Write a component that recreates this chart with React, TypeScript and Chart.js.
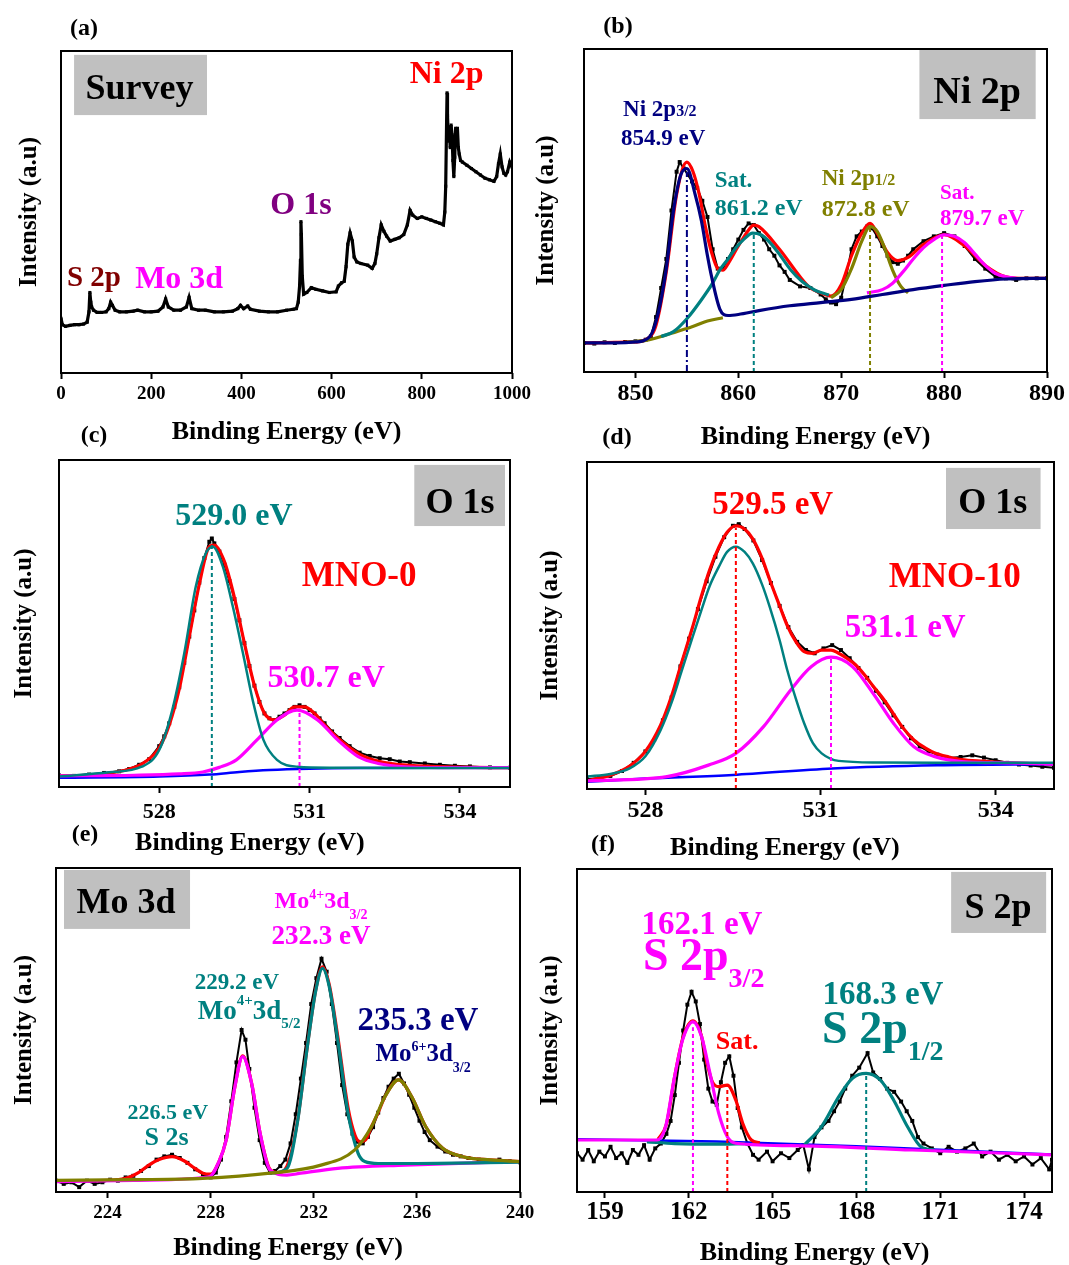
import React, { useEffect, useRef } from 'react';
import { Chart, registerables } from 'chart.js';

Chart.register(...registerables);

const FONT = "'Liberation Serif', 'Times New Roman', Times, serif";
const NAVY = '#000080';
const TEAL = '#008080';
const OLIVE = '#808000';
const MAGENTA = '#ff00ff';
const RED = '#ff0000';
const BLUE = '#0000ff';
const PURPLE = '#800080';
const MAROON = '#800000';
const GRAY = '#c0c0c0';

type Pt = [number, number | null];

// ---------- (a) Survey ----------
const surveyTicks = [0, 200, 400, 600, 800, 1000];
const surveyData: Pt[] = [
  [0, 17], [3, 15], [10, 14.5], [20, 14.8], [30, 15], [40, 15], [50, 15.2], [58, 15.8], [62, 19], [64, 25], [66, 22],
  [68, 20.5], [72, 19.5], [80, 18.8], [90, 18.8], [100, 19], [106, 20], [110, 22], [114, 21], [120, 19.5], [130, 19],
  [145, 19], [160, 19.2], [170, 19.5], [185, 19], [200, 19], [215, 19.2], [226, 20.5], [232, 23], [238, 20.5], [250, 19.5],
  [265, 19.5], [278, 20.5], [284, 23.5], [290, 20], [305, 19.5], [320, 19.5], [340, 19], [360, 19], [380, 19.2], [392, 20],
  [398, 21], [405, 20], [414, 20.8], [420, 19.8], [440, 19.2], [460, 19], [480, 19], [500, 19.5], [515, 19.8], [522, 20],
  [526, 22], [529, 27], [531, 35], [532, 47], [533, 43], [535, 30], [538, 24.5], [545, 25], [555, 26.5], [565, 26],
  [580, 25.5], [595, 25], [610, 25.2], [615, 27], [622, 28], [628, 28.5], [632, 33], [636, 40], [641, 43.5], [646, 41],
  [650, 36], [656, 34.5], [665, 34], [680, 33.5], [690, 32.5], [696, 34], [700, 37], [705, 42], [710, 46], [716, 44],
  [722, 42.5], [730, 41], [740, 41.5], [750, 42], [760, 43], [768, 46], [774, 50.5], [780, 49], [790, 48], [800, 48.5],
  [810, 48], [820, 47.5], [830, 47], [840, 46.5], [848, 46], [851, 50], [853, 58], [855, 78], [856, 87], [857, 80],
  [859, 72], [861, 76], [863, 70], [865, 77], [867, 74], [869, 66], [871, 61], [873, 67], [875, 76], [877, 73],
  [879, 76], [881, 70], [883, 68], [886, 66], [890, 65.5], [900, 64.5], [910, 63.5], [920, 62.5], [930, 61.5], [940, 60.5],
  [950, 60], [960, 59.5], [966, 61], [970, 65], [974, 68], [978, 64], [982, 62], [986, 61.5], [990, 62.5], [995, 65.5], [1000, 64],
];

// ---------- (b) Ni 2p ----------
const niTicks = [850, 860, 870, 880, 890];
const niData: Pt[] = [
  [845, 9], [846, 8.8], [847, 9.2], [848, 9], [849, 9.3], [850, 9.5], [851, 10], [851.5, 11], [852, 17], [852.5, 26],
  [853, 35], [853.5, 50], [854, 62], [854.3, 65], [854.7, 63], [855.1, 61], [855.5, 59], [856, 57], [856.5, 53], [857, 48],
  [857.5, 38], [858, 32], [858.5, 32], [859, 35], [859.5, 38], [860, 41], [860.5, 44], [861, 46], [861.5, 45.5], [862, 43],
  [862.5, 41], [863, 38], [863.5, 36], [864, 33], [864.5, 31], [865, 28.5], [866, 26.5], [867, 26], [868, 24], [868.5, 22.5],
  [869, 21.5], [869.5, 21], [870, 23], [870.5, 30], [871, 38], [871.5, 42], [872, 43.5], [872.5, 45], [873, 44.5], [873.5, 42],
  [874, 39], [874.5, 36], [875, 34], [875.5, 33.5], [876, 34.5], [876.5, 36], [877, 38], [878, 40.5], [879, 42], [880, 43],
  [881, 42], [882, 39], [883, 35], [884, 32], [885, 29.5], [886, 29], [887, 28.5], [888, 29], [889, 29], [890, 29],
];
const niEnvelope: Pt[] = [
  [845, 9], [850, 9.3], [851, 10], [852, 14.5], [853, 31], [854, 55], [855, 65], [855.6, 62], [856.2, 55], [856.8, 45],
  [857.4, 37], [858, 32], [858.5, 31.5], [859, 33.5], [860, 39], [861, 44], [861.5, 45.5], [862, 45], [864, 38], [866, 29.5],
  [867, 26], [868, 24.5], [869, 23.5], [870, 27], [871, 36], [872, 43], [872.8, 46], [873.5, 43], [874.5, 37], [875.5, 34.5],
  [876.5, 35.5], [878, 39.5], [880, 42.5], [882, 39], [884, 33], [886, 29.5], [888, 29], [890, 29],
];
const niP32: Pt[] = [
  [845, 9], [848, 9], [850, 9.3], [851.4, 11], [852.2, 18], [853, 32], [853.7, 50], [854.4, 61], [855, 63], [855.8, 55],
  [856.4, 47], [857, 36], [857.4, 29.5], [858.2, 19.5], [859, 17.5], [860, 17.8], [862, 19], [865, 20.5], [868, 21.5],
  [871, 22.5], [874, 24], [877, 25.5], [880, 26.8], [883, 28], [886, 28.8], [890, 29],
];
const niSat1: Pt[] = [
  [852.5, 11], [853.7, 12.5], [855, 16.5], [856.4, 22.3], [857.5, 27.5], [858.2, 31.6], [859, 35], [859.75, 38.4],
  [860.5, 41], [861.4, 43], [862.2, 42.5], [863.1, 40], [864.1, 36], [865.1, 31.6], [866.2, 28], [867.4, 25.4], [868.8, 23.8],
];
const niP12: Pt[] = [
  [849, 9.2], [851, 9.8], [852.5, 11], [854, 12.5], [855.5, 14], [857, 15.8], [858.5, 16.8], [860, null],
  [869, 23], [870, 25.5], [871, 32], [872, 40.5], [872.8, 45], [873.5, 43.5], [874.2, 38.5], [875, 31.5], [875.8, 26.5], [876.5, 24.5],
];
const niSat2: Pt[] = [
  [872.5, 24.5], [874, 25.5], [875, 27.5], [876, 31], [877, 35], [878, 38.5], [879, 41], [880, 42.5], [881, 42],
  [882, 40], [883, 36.5], [884, 33], [885, 30.5], [886, 29.5], [887, 29],
];
const niPeakE = [855.0, 861.5, 872.8, 879.8];
const niPeakTop = [62, 43, 44.5, 42];

// ---------- (c) O 1s, MNO-0 ----------
const o0Ticks = [528, 531, 534];
const o0Data: Pt[] = [
  [526, 3.5], [526.3, 3.4], [526.6, 3.8], [526.9, 4.3], [527.2, 4.8], [527.4, 5.5], [527.6, 6.8], [527.8, 8.5], [528.0, 12.5],
  [528.1, 15.5], [528.2, 19.5], [528.3, 24.5], [528.4, 30.5], [528.5, 38], [528.6, 46], [528.7, 54], [528.8, 62.5], [528.9, 70],
  [529.0, 75], [529.05, 76], [529.1, 74.5], [529.2, 72], [529.3, 68], [529.4, 63], [529.5, 57.5], [529.6, 51], [529.7, 44],
  [529.8, 37], [529.9, 31], [530.0, 26], [530.1, 22.5], [530.2, 21], [530.3, 20.5], [530.4, 21.5], [530.5, 22.5], [530.6, 23.5],
  [530.7, 24.5], [530.8, 25], [530.9, 24.5], [531.0, 23.5], [531.1, 22.5], [531.2, 21], [531.3, 19.5], [531.45, 17], [531.6, 15],
  [531.8, 12.5], [532.0, 10.5], [532.2, 9.5], [532.4, 8.8], [532.6, 8.5], [532.8, 7.8], [533.0, 7.6], [533.3, 7.2], [533.6, 6.8],
  [533.9, 6.5], [534.2, 6.3], [534.6, 6], [535, 5.9],
];
const o0Envelope: Pt[] = [
  [526, 3.4], [526.5, 3.6], [527, 4.2], [527.4, 5.5], [527.7, 7.5], [528, 12], [528.2, 19], [528.4, 30], [528.6, 46], [528.8, 62],
  [529, 73.5], [529.1, 74], [529.3, 69], [529.5, 58], [529.7, 44], [529.9, 31], [530.1, 22.5], [530.3, 20.5], [530.5, 22],
  [530.7, 24.5], [530.9, 24.5], [531.1, 22.5], [531.3, 19], [531.6, 14.5], [532, 10], [532.4, 7.8], [533, 6.6], [534, 6.1], [535, 5.9],
];
const o0Lattice: Pt[] = [
  [526, 3.2], [527, 4.5], [527.65, 6.2], [528, 11.3], [528.26, 23.5], [528.5, 40.9], [528.73, 61.3], [528.93, 71.5], [529.07, 73.5],
  [529.27, 67.4], [529.47, 55.1], [529.67, 41], [529.88, 25.6], [530.08, 14.4], [530.35, 8.3], [530.76, 6.2], [531.5, 5.9], [533, 5.8], [535, 5.8],
];
const o0Vacancy: Pt[] = [
  [526, 3.4], [527.5, 3.6], [528.4, 4], [528.87, 4.6], [529.2, 6], [529.54, 8.3], [529.95, 14.4], [530.35, 20.5], [530.75, 23.5],
  [531.16, 20.5], [531.56, 14.4], [531.97, 9.3], [532.37, 7.2], [532.91, 6.2], [534, 5.9], [535, 5.9],
];
const o0Background: Pt[] = [
  [526, 2.8], [528, 3.2], [529, 3.8], [529.6, 4.6], [530.2, 5.2], [531, 5.6], [532, 5.8], [535, 5.9],
];
const o0PeakE = [529.05, 530.8];
const o0PeakTop = [74, 24];

// ---------- (d) O 1s, MNO-10 ----------
const o10Ticks = [528, 531, 534];
const o10Data: Pt[] = [
  [527.0, 3], [527.2, 3.4], [527.4, 4], [527.6, 5.5], [527.8, 8], [528.0, 11.5], [528.15, 15], [528.3, 21], [528.45, 28],
  [528.6, 37.5], [528.75, 46], [528.9, 55], [529.05, 63.5], [529.2, 71], [529.35, 77], [529.5, 80.5], [529.6, 81], [529.7, 79.5],
  [529.85, 76], [530.0, 70], [530.15, 63], [530.3, 56], [530.45, 49.5], [530.6, 45], [530.75, 42.5], [530.9, 41.5], [531.05, 43],
  [531.2, 44], [531.35, 42.5], [531.5, 40], [531.65, 37], [531.8, 34], [531.95, 30], [532.1, 26.5], [532.25, 22.5], [532.4, 19],
  [532.55, 15.5], [532.7, 13], [532.85, 11.5], [533.0, 10.5], [533.2, 9.5], [533.4, 9.8], [533.6, 10.3], [533.8, 9.6], [534.0, 8.8],
  [534.2, 8], [534.4, 7.5], [534.6, 7.2], [534.8, 6.8], [535.0, 6.5],
];
const o10Envelope: Pt[] = [
  [527, 2.5], [527.4, 4.2], [527.73, 7], [528.0, 11.5], [528.26, 19.5], [528.45, 28.5], [528.61, 38], [528.8, 49], [528.96, 59],
  [529.1, 67], [529.26, 74], [529.4, 78.5], [529.55, 80.5], [529.7, 79.5], [529.84, 76.5], [530.0, 70.5], [530.13, 64], [530.3, 56],
  [530.43, 50], [530.58, 45], [530.72, 42], [530.87, 41.5], [531.02, 42.5], [531.18, 42.5], [531.31, 41.5], [531.45, 40], [531.6, 38],
  [531.75, 35], [531.9, 31.5], [532.1, 27], [532.25, 23], [532.4, 19], [532.6, 15], [532.8, 12.5], [532.96, 11], [533.2, 9.8],
  [533.42, 9], [533.8, 8.5], [534.24, 8], [535, 7.6],
];
const o10Lattice: Pt[] = [
  [527.0, 3.8], [527.4, 4.6], [527.73, 6.3], [528.0, 10], [528.26, 18], [528.45, 26.5], [528.61, 35.4], [528.8, 46], [528.96, 54.7],
  [529.1, 62], [529.26, 68], [529.4, 72.5], [529.55, 74.1], [529.7, 72.5], [529.84, 69], [530.0, 62.5], [530.13, 55.7], [530.3, 45.5],
  [530.43, 36.4], [530.58, 27.5], [530.72, 20.1], [530.87, 14], [531.02, 10.9], [531.31, 8.6], [532, 8.1], [533, 8], [535, 8],
];
const o10Vacancy: Pt[] = [
  [527, 2.5], [528.37, 3.8], [529.08, 7.3], [529.55, 10.9], [530.02, 19], [530.49, 30.3], [530.84, 37.4], [531.18, 40.3], [531.55, 37.4],
  [531.9, 29.3], [532.25, 20.1], [532.6, 12.9], [532.96, 9.9], [533.42, 8.4], [534.24, 8], [535, 7.6],
];
const o10Background: Pt[] = [
  [527, 2.2], [528, 3.2], [529.5, 4.3], [531.2, 6.3], [533, 7.3], [535, 7.6],
];
const o10PeakE = [529.55, 531.18];
const o10PeakTop = [80, 40];

// ---------- (e) Mo 3d ----------
const moTicks = [224, 228, 232, 236, 240];
const moData: Pt[] = [
  [222, 3.5], [222.3, 2.5], [222.6, 3], [222.9, 1.5], [223.2, 3.5], [223.5, 2.5], [223.8, 3], [224.1, 3.8], [224.4, 3.5], [224.7, 4.5],
  [225.0, 5], [225.3, 6.5], [225.6, 8], [225.9, 10], [226.2, 11], [226.5, 11.5], [226.8, 10.5], [227.1, 9], [227.4, 7], [227.7, 5.5],
  [228.0, 4.5], [228.2, 6], [228.4, 10], [228.6, 17], [228.8, 28], [229.0, 40], [229.2, 50], [229.35, 47], [229.5, 38], [229.7, 26],
  [229.9, 16], [230.1, 9], [230.3, 6], [230.5, 6.5], [230.7, 8], [230.9, 10], [231.1, 15], [231.3, 24], [231.5, 35], [231.7, 46],
  [231.9, 58], [232.1, 66], [232.3, 72], [232.5, 68], [232.7, 58], [232.9, 46], [233.1, 33], [233.3, 24], [233.5, 18], [233.7, 15.5],
  [233.9, 15], [234.1, 17], [234.3, 20], [234.5, 24.5], [234.7, 29], [234.9, 32.5], [235.1, 35], [235.3, 36.5], [235.5, 33.5],
  [235.7, 30], [235.9, 26], [236.1, 22], [236.3, 18.5], [236.5, 16], [236.8, 14], [237.1, 12.5], [237.4, 11.5], [237.7, 11],
  [238.0, 10.5], [238.4, 10], [238.8, 9.5], [239.2, 10], [239.6, 9.5], [240, 9.2],
];
const moEnvelope: Pt[] = [
  [222, 3.5], [224, 3.6], [224.8, 4.5], [225.2, 6], [225.6, 8.3], [226, 10], [226.5, 10.9], [227, 9.5], [227.3, 7.8], [227.7, 5.8],
  [228, 5.5], [228.3, 9], [228.6, 16], [228.94, 32.5], [229.24, 42], [229.59, 33.5], [229.92, 18], [230.3, 7], [230.6, 6], [230.96, 8],
  [231.36, 21.5], [231.75, 45], [232.08, 62.5], [232.34, 69.5], [232.6, 64], [232.93, 48], [233.33, 26], [233.6, 17.5], [233.79, 15.5],
  [234, 16], [234.24, 20.2], [234.5, 24.5], [234.76, 29.4], [235.29, 34.6], [235.8, 29.4], [236.34, 20.2], [237, 13.5], [237.78, 10.9],
  [238.83, 9.9], [240, 9.4],
];
const moP52: Pt[] = [
  [222, 3.2], [225, 3.6], [227.95, 4.7], [228.3, 9], [228.6, 16], [228.94, 32.5], [229.24, 41.8], [229.59, 33.5], [229.92, 18.1],
  [230.3, 6.8], [230.96, 5.2], [231.5, 5.8], [232.93, 7.3], [235.55, 8.3], [240, 9.4],
];
const moP32: Pt[] = [
  [230.3, 5.8], [230.96, 7.3], [231.36, 21.2], [231.75, 44.8], [232.08, 62.3], [232.34, 69], [232.6, 63.4], [232.93, 46.9],
  [233.33, 24.3], [233.72, 11.9], [233.98, 9.4], [234.5, 8.8], [236, 8.8], [240, 9.2],
];
const moP6: Pt[] = [
  [222, 3.6], [225, 3.8], [227.69, 4.2], [230.3, 5.8], [232.28, 8.3], [233.59, 13], [234.24, 20.2], [234.76, 29.4], [235.29, 34.6],
  [235.8, 29.4], [236.34, 20.2], [237, 13.5], [237.78, 10.9], [238.83, 9.9], [240, 9.4],
];

// ---------- (f) S 2p ----------
const sTicks = [159, 162, 165, 168, 171, 174];
const sData: Pt[] = [
  [158.0, 12], [158.2, 10], [158.4, 13], [158.6, 9.5], [158.8, 12.5], [159.0, 11], [159.2, 14], [159.4, 10.5], [159.6, 12], [159.8, 9],
  [160.0, 13], [160.2, 11.5], [160.4, 14.5], [160.6, 10], [160.8, 13.5], [161.0, 15], [161.2, 18], [161.35, 22], [161.5, 30],
  [161.65, 40], [161.8, 50], [161.95, 58], [162.1, 62], [162.25, 59], [162.4, 52], [162.55, 41], [162.7, 32], [162.85, 28], [163.0, 27],
  [163.15, 34], [163.3, 40], [163.45, 42], [163.6, 36], [163.75, 26], [163.9, 20], [164.1, 15], [164.3, 11.5], [164.5, 10], [164.8, 12.5],
  [165.0, 9.5], [165.3, 12], [165.6, 10.5], [165.9, 13], [166.1, 14.5], [166.3, 7], [166.5, 17], [166.75, 20], [167.0, 22], [167.2, 25],
  [167.4, 28], [167.6, 32], [167.85, 36], [168.1, 38.5], [168.4, 43], [168.6, 37], [168.85, 35], [169.1, 32], [169.35, 31], [169.6, 28],
  [169.8, 25], [170.0, 22], [170.2, 17], [170.4, 15], [170.7, 13.5], [171.0, 12], [171.3, 14], [171.6, 12.5], [171.9, 13.5], [172.2, 15],
  [172.5, 11], [172.8, 12.5], [173.1, 10], [173.4, 11.5], [173.7, 9.5], [174.0, 11], [174.3, 8.5], [174.6, 10.5], [174.9, 7], [175, 10],
];
const sP32: Pt[] = [
  [158, 16.1], [160.86, 16.1], [161.17, 20.2], [161.47, 34.7], [161.78, 47.1], [162.15, 52.7], [162.46, 48.1], [162.76, 36.7],
  [163.07, 24.4], [163.38, 17.1], [163.68, 15.1], [166, 14.3], [170, 13], [175, 11.5],
];
const sEnvelope: Pt[] = [
  [160.9, 16.3], [161.2, 21], [161.5, 36], [161.8, 48], [162.15, 53], [162.45, 48.5], [162.65, 40], [162.85, 34], [163.07, 32.6],
  [163.38, 33.1], [163.68, 28.5], [163.93, 21.3], [164.24, 16.1], [164.54, 15.2],
];
const sP12: Pt[] = [
  [160.5, 15.5], [161.5, 15], [163, 14.8], [164, 15], [165, null], [166.14, 14.6], [166.75, 20.2], [167.37, 29.5], [167.86, 35.2],
  [168.35, 36.7], [168.85, 34.7], [169.33, 28.5], [169.83, 20.2], [170.31, 14], [170.8, 13],
];
const sBackground: Pt[] = [[158, 16.3], [163, 15.6], [168, 14.2], [175, 11.6]];
const sPeakE = [162.15, 163.38, 168.35];
const sPeakTop = [51, 33, 36.5];

// ---------- helpers ----------
type Seg = { t: string; s: number; dy?: number };
type Lbl = { x: number; y: number; c: string; segs: Seg[]; left?: boolean };
type GBox = { x0: number; x1: number; y0: number; y1: number };

const toXY = (pairs: Pt[]) => pairs.map(([x, y]) => ({ x, y }));

const dataDs = (pairs: Pt[], lw = 2, r = 2.8) => ({
  data: toXY(pairs), borderColor: '#000', borderWidth: lw, pointStyle: 'rect', pointRadius: r,
  pointBackgroundColor: '#000', pointBorderColor: '#000', pointBorderWidth: 0, tension: 0,
});
const fitDs = (pairs: Pt[], color: string, w = 3.2) => ({
  data: toXY(pairs), borderColor: color, borderWidth: w, pointRadius: 0,
  cubicInterpolationMode: 'monotone', spanGaps: false,
});
const vline = (x: number, top: number, color: string, dash: number[] = [4, 3]) => ({
  data: [{ x, y: 0 }, { x, y: top }], borderColor: color, borderWidth: 2, borderDash: dash, pointRadius: 0,
});

function decor(boxes: GBox[], labels: Lbl[]) {
  return {
    id: 'decor',
    afterDatasetsDraw(chart: any) {
      const { ctx, chartArea: a, scales } = chart;
      const xs = scales.x;
      const ys = scales.y;
      ctx.save();
      ctx.fillStyle = GRAY;
      for (const b of boxes) {
        const l = xs.getPixelForValue(b.x0);
        const r = xs.getPixelForValue(b.x1);
        const t = ys.getPixelForValue(b.y1);
        const bt = ys.getPixelForValue(b.y0);
        ctx.fillRect(l, t, r - l, bt - t);
      }
      ctx.strokeStyle = '#000';
      ctx.lineWidth = 2;
      ctx.strokeRect(a.left, a.top, a.right - a.left, a.bottom - a.top);
      ctx.textAlign = 'left';
      ctx.textBaseline = 'alphabetic';
      for (const lb of labels) {
        const px = xs.getPixelForValue(lb.x);
        const py = ys.getPixelForValue(lb.y);
        const widths = lb.segs.map((sg) => {
          ctx.font = `bold ${sg.s}px ${FONT}`;
          return ctx.measureText(sg.t).width;
        });
        const total = widths.reduce((p, w) => p + w, 0);
        let cx = lb.left ? px : px - total / 2;
        const base = py + lb.segs[0].s * 0.33;
        ctx.fillStyle = lb.c;
        lb.segs.forEach((sg, i) => {
          ctx.font = `bold ${sg.s}px ${FONT}`;
          ctx.fillText(sg.t, cx, base + (sg.dy || 0));
          cx += widths[i];
        });
      }
      ctx.restore();
    },
  };
}

type PanelCfg = {
  box: { l: number; t: number; r: number; b: number };
  yTitleX: number;
  xAxisH: number;
  xMin: number;
  xMax: number;
  ticks: number[];
  tickSize: number;
  tickPad: number;
  xTitle: boolean;
  datasets: any[];
  boxes: GBox[];
  labels: Lbl[];
};

function Panel({ cfg }: { cfg: PanelCfg }) {
  const ref = useRef<HTMLCanvasElement>(null);
  const { box } = cfg;
  const CL = cfg.yTitleX - 15;
  const CT = box.t - 20;
  const CR = Math.min(box.r + 28, 1069);
  const CB = box.b + cfg.xAxisH;
  const W = CR - CL;
  const H = CB - CT;
  useEffect(() => {
    const n = cfg.datasets.length;
    const datasets = cfg.datasets.map((d, i) => ({ ...d, order: n - i }));
    const chart = new Chart(ref.current as HTMLCanvasElement, {
      type: 'line',
      data: { datasets },
      options: {
        responsive: false,
        animation: false,
        devicePixelRatio: 1,
        events: [],
        layout: { padding: { left: 0, top: 20, right: CR - box.r, bottom: 0 }, autoPadding: false },
        plugins: { legend: { display: false }, tooltip: { enabled: false } },
        scales: {
          x: {
            type: 'linear',
            min: cfg.xMin,
            max: cfg.xMax,
            afterBuildTicks: (s: any) => { s.ticks = cfg.ticks.map((v) => ({ value: v })); },
            afterFit: (s: any) => { s.height = cfg.xAxisH; },
            grid: { display: true, drawOnChartArea: false, drawTicks: true, tickLength: 6, tickWidth: 2, tickColor: '#000', color: '#000' },
            border: { display: false },
            ticks: {
              color: '#000', font: { family: FONT, size: cfg.tickSize, weight: 'bold' }, padding: cfg.tickPad,
              maxRotation: 0, autoSkip: false, callback: (v: any) => String(v),
            },
            title: {
              display: cfg.xTitle, text: 'Binding Energy (eV)', color: '#000',
              font: { family: FONT, size: 26, weight: 'bold' }, padding: 0,
            },
          },
          y: {
            type: 'linear',
            min: 0,
            max: 100,
            afterFit: (s: any) => { s.width = box.l - CL; },
            grid: { display: false },
            border: { display: false },
            ticks: { display: false },
            title: {
              display: true, text: 'Intensity (a.u)', color: '#000',
              font: { family: FONT, size: 25, weight: 'bold' }, padding: 0,
            },
          },
        },
      } as any,
      plugins: [decor(cfg.boxes, cfg.labels)],
    } as any);
    return () => chart.destroy();
  }, []);
  return (
    <canvas ref={ref} width={W} height={H}
      style={{ position: 'absolute', left: CL, top: CT, width: W, height: H }} />
  );
}

const panels: PanelCfg[] = [
  {
    box: { l: 61, t: 51, r: 512, b: 373 }, yTitleX: 30, xAxisH: 75, xMin: 0, xMax: 1000, ticks: surveyTicks,
    tickSize: 19, tickPad: 4, xTitle: true,
    datasets: [dataDs(surveyData, 3.2, 2.2)],
    boxes: [{ x0: 29, x1: 323.7, y0: 80.1, y1: 98.8 }],
    labels: [
      { x: 174, y: 88.7, c: '#000', segs: [{ t: 'Survey', s: 36 }] },
      { x: 855, y: 93.3, c: RED, segs: [{ t: 'Ni 2p', s: 32 }] },
      { x: 532, y: 52.8, c: PURPLE, segs: [{ t: 'O 1s', s: 32 }] },
      { x: 73, y: 30.1, c: MAROON, segs: [{ t: 'S 2p', s: 29 }] },
      { x: 262, y: 29.8, c: MAGENTA, segs: [{ t: 'Mo 3d', s: 32 }] },
    ],
  },
  {
    box: { l: 584, t: 49, r: 1047, b: 372 }, yTitleX: 547, xAxisH: 81, xMin: 845, xMax: 890, ticks: niTicks,
    tickSize: 24, tickPad: 1, xTitle: true,
    datasets: [
      dataDs(niData), fitDs(niEnvelope, RED), fitDs(niP12, OLIVE), fitDs(niSat2, MAGENTA), fitDs(niSat1, TEAL),
      fitDs(niP32, NAVY),
      vline(niPeakE[0], niPeakTop[0], NAVY, [7, 3, 2, 3]), vline(niPeakE[1], niPeakTop[1], TEAL),
      vline(niPeakE[2], niPeakTop[2], OLIVE), vline(niPeakE[3], niPeakTop[3], MAGENTA),
    ],
    boxes: [{ x0: 877.6, x1: 888.9, y0: 78.3, y1: 99.7 }],
    labels: [
      { x: 883.2, y: 87.3, c: '#000', segs: [{ t: 'Ni 2p', s: 38 }] },
      { x: 848.8, y: 81.6, c: NAVY, left: true, segs: [{ t: 'Ni 2p', s: 23 }, { t: '3/2', s: 16 }] },
      { x: 848.6, y: 72.6, c: NAVY, left: true, segs: [{ t: '854.9 eV', s: 23 }] },
      { x: 857.7, y: 59.6, c: TEAL, left: true, segs: [{ t: 'Sat.', s: 23 }] },
      { x: 857.7, y: 51.2, c: TEAL, left: true, segs: [{ t: '861.2 eV', s: 24 }] },
      { x: 868.1, y: 60.2, c: OLIVE, left: true, segs: [{ t: 'Ni 2p', s: 23 }, { t: '1/2', s: 16 }] },
      { x: 868.1, y: 50.6, c: OLIVE, left: true, segs: [{ t: '872.8 eV', s: 24 }] },
      { x: 879.6, y: 55.6, c: MAGENTA, left: true, segs: [{ t: 'Sat.', s: 21 }] },
      { x: 879.6, y: 47.8, c: MAGENTA, left: true, segs: [{ t: '879.7 eV', s: 23 }] },
    ],
  },
  {
    box: { l: 59, t: 460, r: 510, b: 787 }, yTitleX: 25, xAxisH: 80, xMin: 526, xMax: 535, ticks: o0Ticks,
    tickSize: 22, tickPad: 6, xTitle: false,
    datasets: [
      dataDs(o0Data), fitDs(o0Envelope, RED), fitDs(o0Background, BLUE, 2.5), fitDs(o0Vacancy, MAGENTA),
      fitDs(o0Lattice, TEAL, 2.5),
      vline(o0PeakE[0], o0PeakTop[0], TEAL), vline(o0PeakE[1], o0PeakTop[1], MAGENTA),
    ],
    boxes: [{ x0: 533.09, x1: 534.9, y0: 79.8, y1: 98.5 }],
    labels: [
      { x: 534.0, y: 87.5, c: '#000', segs: [{ t: 'O 1s', s: 36 }] },
      { x: 529.49, y: 83.5, c: TEAL, segs: [{ t: '529.0 eV', s: 32 }] },
      { x: 531.99, y: 65.1, c: RED, segs: [{ t: 'MNO-0', s: 35 }] },
      { x: 531.33, y: 33.9, c: MAGENTA, segs: [{ t: '530.7 eV', s: 32 }] },
      { x: 529.81, y: -16.5, c: '#000', segs: [{ t: 'Binding Energy (eV)', s: 26 }] },
    ],
  },
  {
    box: { l: 587, t: 462, r: 1054, b: 789 }, yTitleX: 551, xAxisH: 80, xMin: 527, xMax: 535, ticks: o10Ticks,
    tickSize: 24, tickPad: 1, xTitle: false,
    datasets: [
      dataDs(o10Data), fitDs(o10Envelope, RED), fitDs(o10Background, BLUE, 2.5), fitDs(o10Vacancy, MAGENTA),
      fitDs(o10Lattice, TEAL, 2.5),
      vline(o10PeakE[0], o10PeakTop[0], RED), vline(o10PeakE[1], o10PeakTop[1], MAGENTA),
    ],
    boxes: [{ x0: 533.15, x1: 534.77, y0: 79.5, y1: 98.2 }],
    labels: [
      { x: 533.95, y: 88, c: '#000', segs: [{ t: 'O 1s', s: 36 }] },
      { x: 530.18, y: 87.5, c: RED, segs: [{ t: '529.5 eV', s: 33 }] },
      { x: 533.3, y: 65.3, c: RED, segs: [{ t: 'MNO-10', s: 35 }] },
      { x: 532.45, y: 49.8, c: MAGENTA, segs: [{ t: '531.1 eV', s: 33 }] },
      { x: 530.39, y: -17.5, c: '#000', segs: [{ t: 'Binding Energy (eV)', s: 26 }] },
    ],
  },
  {
    box: { l: 56, t: 868, r: 520, b: 1192 }, yTitleX: 25, xAxisH: 72, xMin: 222, xMax: 240, ticks: moTicks,
    tickSize: 19, tickPad: 4, xTitle: true,
    datasets: [dataDs(moData), fitDs(moEnvelope, RED), fitDs(moP52, MAGENTA), fitDs(moP32, TEAL), fitDs(moP6, OLIVE)],
    boxes: [{ x0: 222.31, x1: 227.2, y0: 81.2, y1: 99.4 }],
    labels: [
      { x: 224.72, y: 89.7, c: '#000', segs: [{ t: 'Mo 3d', s: 36 }] },
      { x: 232.28, y: 90.1, c: MAGENTA, segs: [{ t: 'Mo', s: 24 }, { t: '4+', s: 14, dy: -9 }, { t: '3d', s: 24 }, { t: '3/2', s: 14, dy: 11 }] },
      { x: 232.28, y: 79.3, c: MAGENTA, segs: [{ t: '232.3 eV', s: 27 }] },
      { x: 229.02, y: 65, c: TEAL, segs: [{ t: '229.2 eV', s: 23 }] },
      { x: 229.49, y: 56, c: TEAL, segs: [{ t: 'Mo', s: 27 }, { t: '4+', s: 15, dy: -14 }, { t: '3d', s: 27 }, { t: '5/2', s: 15, dy: 9 }] },
      { x: 236.04, y: 53.5, c: NAVY, segs: [{ t: '235.3 eV', s: 33 }] },
      { x: 236.24, y: 43, c: NAVY, segs: [{ t: 'Mo', s: 25 }, { t: '6+', s: 14, dy: -10 }, { t: '3d', s: 25 }, { t: '3/2', s: 14, dy: 11 }] },
      { x: 226.34, y: 24.8, c: TEAL, segs: [{ t: '226.5 eV', s: 22 }] },
      { x: 226.29, y: 17.3, c: TEAL, segs: [{ t: 'S 2s', s: 26 }] },
    ],
  },
  {
    box: { l: 577, t: 869, r: 1052, b: 1192 }, yTitleX: 551, xAxisH: 77, xMin: 158, xMax: 175, ticks: sTicks,
    tickSize: 25, tickPad: 0, xTitle: true,
    datasets: [
      dataDs(sData), fitDs(sBackground, BLUE, 2.5), fitDs(sP12, TEAL), fitDs(sEnvelope, RED), fitDs(sP32, MAGENTA),
      vline(sPeakE[0], sPeakTop[0], MAGENTA), vline(sPeakE[1], sPeakTop[1], RED), vline(sPeakE[2], sPeakTop[2], TEAL),
    ],
    boxes: [{ x0: 171.39, x1: 174.79, y0: 80.2, y1: 99.1 }],
    labels: [
      { x: 173.07, y: 88.5, c: '#000', segs: [{ t: 'S 2p', s: 36 }] },
      { x: 162.47, y: 83.4, c: MAGENTA, segs: [{ t: '162.1 eV', s: 33 }] },
      { x: 160.36, y: 73.4, c: MAGENTA, left: true, segs: [{ t: 'S 2p', s: 46 }, { t: '3/2', s: 28, dy: 17 }] },
      { x: 163.73, y: 46.9, c: RED, segs: [{ t: 'Sat.', s: 26 }] },
      { x: 168.95, y: 61.6, c: TEAL, segs: [{ t: '168.3 eV', s: 33 }] },
      { x: 166.77, y: 50.9, c: TEAL, left: true, segs: [{ t: 'S 2p', s: 46 }, { t: '1/2', s: 28, dy: 17 }] },
    ],
  },
];

const panelLetters = [
  { t: '(a)', x: 84, y: 27 },
  { t: '(b)', x: 618, y: 25 },
  { t: '(c)', x: 94, y: 434 },
  { t: '(d)', x: 617, y: 436 },
  { t: '(e)', x: 85, y: 833 },
  { t: '(f)', x: 603, y: 843 },
];

export default function App() {
  return (
    <div style={{ position: 'absolute', left: 0, top: 0, width: 1069, height: 1265, overflow: 'hidden', background: '#fff' }}>
      {panels.map((p, i) => <Panel key={i} cfg={p} />)}
      {panelLetters.map((l) => (
        <div key={l.t} style={{
          position: 'absolute', left: l.x, top: l.y, transform: 'translate(-50%, -50%)',
          font: `bold 24px ${FONT}`, lineHeight: 1, color: '#000', whiteSpace: 'nowrap',
        }}>{l.t}</div>
      ))}
    </div>
  );
}
